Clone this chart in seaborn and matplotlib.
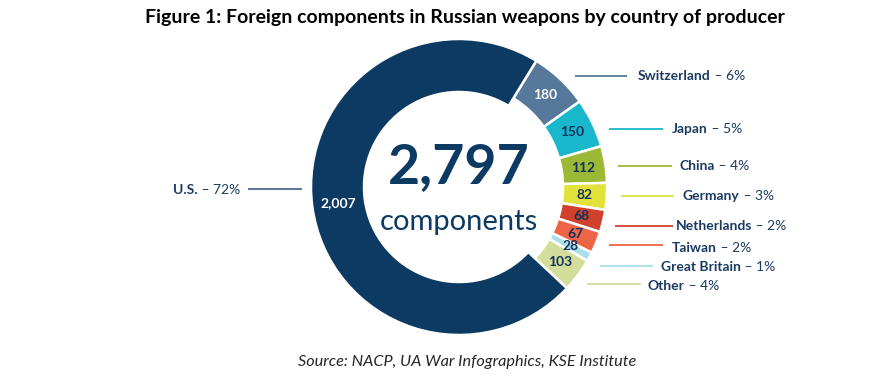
import numpy as np
import seaborn as sns
import matplotlib.pyplot as plt

sns.set_style('white')
plt.rcParams['font.family'] = ['Lato', 'DejaVu Sans']

W, H = 879, 390

countries = ['Switzerland', 'Japan', 'China', 'Germany', 'Netherlands',
             'Taiwan', 'Great Britain', 'Other', 'U.S.']
counts = [180, 150, 112, 82, 68, 67, 28, 103, 2007]
shares = [6, 5, 4, 3, 2, 2, 1, 4, 72]
colors = ['#56799b', '#19b7cc', '#9cb936', '#e2e23c', '#d0402c',
          '#ee6447', '#a9dfe9', '#d3de9b', '#0c3a63']
value_text_colors = ['white'] + ['#12325a'] * 7 + ['white']

TOTAL = sum(counts)
NAVY = '#0c3a63'
LABEL_NAVY = '#1b3a62'

# layout, in pixels from the top-left corner
CENTER = (459, 187)
R_OUT = 148
US_WIDTH = 53
SMALL_WIDTH = 44
START_ANGLE = 58.5

# right hand labels: (line start x, line end x, line y, text x, text y)
label_layout = [
    (575, 627, 76, 638, 76),
    (609, 663, 129, 672, 129),
    (618, 672, 166, 680, 166),
    (621, 674, 196, 683, 196),
    (615, 673, 226, 676, 226),
    (609, 663, 245, 672, 248),
    (600, 653, 266, 661, 267),
    (587, 641, 284, 648, 286),
]
US_LAYOUT = (248, 302, 189, 240, 190)


def y(px):
    return H - px


def main():
    fig = plt.figure(figsize=(W / 100, H / 100), dpi=100)
    ax = fig.add_axes([0, 0, 1, 1])

    cx, cy = CENTER[0], y(CENTER[1])
    wedges, _ = ax.pie(counts, colors=colors, startangle=START_ANGLE,
                       counterclock=False, radius=R_OUT, center=(cx, cy),
                       wedgeprops=dict(width=US_WIDTH, edgecolor='white',
                                       linewidth=1.8))
    for w in wedges[:-1]:
        w.set_width(SMALL_WIDTH)

    # values inside the ring
    for w, n, tc in zip(wedges, counts, value_text_colors):
        theta = np.deg2rad((w.theta1 + w.theta2) / 2)
        r = w.r - w.width / 2
        ax.text(cx + r * np.cos(theta), cy + r * np.sin(theta), f'{n:,}',
                ha='center', va='center', fontsize=10, fontweight='bold',
                color=tc)

    # outside labels with leader lines
    for (x0, x1, ly, tx, ty), name, pct, c in zip(label_layout, countries,
                                                   shares, colors):
        ax.plot([x0, x1], [y(ly), y(ly)], color=c, lw=1.3,
                solid_capstyle='butt')
        t = ax.text(tx, y(ty), name, ha='left', va='center', fontsize=10,
                    fontweight='bold', color=LABEL_NAVY)
        ax.annotate(f' \u2013 {pct}%', xy=(1, 0), xycoords=t, ha='left',
                    va='bottom', fontsize=10, color=LABEL_NAVY)

    x0, x1, ly, tx, ty = US_LAYOUT
    ax.plot([x0, x1], [y(ly), y(ly)], color='#4c6b8c', lw=1.3,
            solid_capstyle='butt')
    t = ax.text(tx, y(ty), f' \u2013 {shares[-1]}%', ha='right', va='center',
                fontsize=10, color=LABEL_NAVY)
    ax.annotate(countries[-1], xy=(0, 0), xycoords=t, ha='right',
                va='bottom', fontsize=10, fontweight='bold',
                color=LABEL_NAVY)

    # centre text
    ax.text(cx, y(167), f'{TOTAL:,}', ha='center', va='center',
            fontsize=40, fontweight='bold', color=NAVY)
    ax.text(cx, y(222), 'components', ha='center', va='center',
            fontsize=21, color=NAVY)

    ax.text(465, y(18), 'Figure 1: Foreign components in Russian weapons '
            'by country of producer', ha='center', va='center',
            fontsize=14, fontweight='bold', color='black')
    ax.text(467, y(362), 'Source: NACP, UA War Infographics, KSE Institute',
            ha='center', va='center', fontsize=11.7, style='italic',
            color='#262626')

    ax.set_xlim(0, W)
    ax.set_ylim(0, H)
    ax.set_aspect('equal')
    ax.axis('off')

    fig.savefig('out.png', dpi=100)


if __name__ == '__main__':
    main()
